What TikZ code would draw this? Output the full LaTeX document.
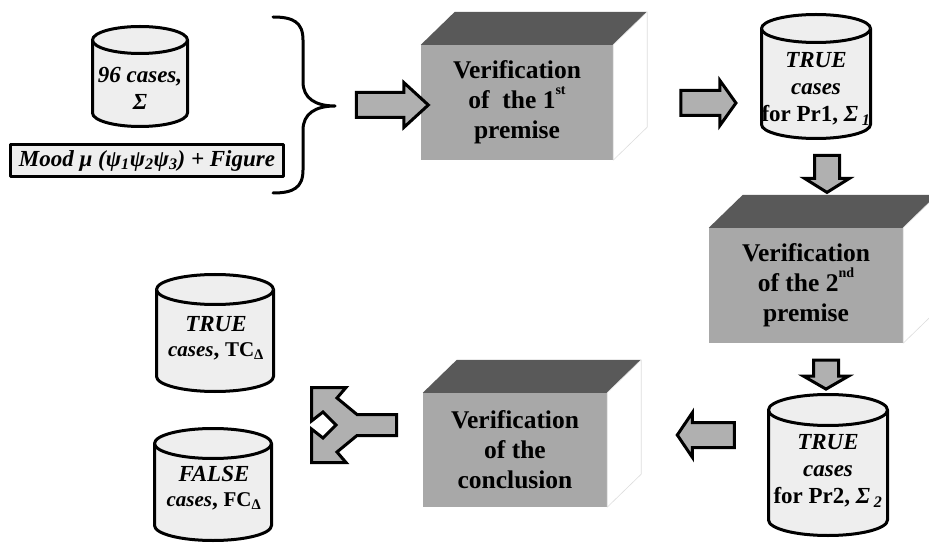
\documentclass[tikz,border=0pt]{standalone}
\usepackage{fontspec}
\setmainfont{Liberation Serif}
\usetikzlibrary{shapes.arrows}

\definecolor{drumfill}{HTML}{EEEEEE}
\definecolor{facegray}{HTML}{A8A8A8}
\definecolor{topgray}{HTML}{595959}
\definecolor{arrowgray}{HTML}{B0B0B0}
\definecolor{edgegray}{HTML}{DDDDDD}

% drum outline: centre x, top y, bottom y, x radius, y radius
\newcommand\drumshape[5]{%
  \filldraw[drumline] ({#1-#4},{#2+#5}) -- ({#1-#4},{#3-#5})
    arc[start angle=180,end angle=360,x radius=#4pt,y radius=#5pt]
    -- ({#1+#4},{#2+#5})
    arc[start angle=0,end angle=180,x radius=#4pt,y radius=#5pt] -- cycle;
  \draw[drumline] ({#1-#4},{#2+#5})
    arc[start angle=180,end angle=360,x radius=#4pt,y radius=#5pt];
}

% top and side faces of a prism whose front face is the given node
\newcommand\prismfaces[1]{%
  \fill[topgray] (#1.north west) -- ++(34,-33) -- ([shift={(34pt,33pt)}]#1.north east) -- (#1.north east) -- cycle;
  \filldraw[fill=white,draw=edgegray,line width=0.6pt] (#1.north east) -- ++(34,-33) -- ([shift={(34pt,33pt)}]#1.south east) -- (#1.south east) -- cycle;
}

\newcommand\ordsup[1]{\raisebox{0.55em}{\fontsize{14}{14}\selectfont #1}}
\newcommand\narrowline{\fontsize{21}{25}\selectfont}

\tikzset{
  drumline/.style={draw=black,fill=drumfill,line width=3pt},
  drumtext/.style={align=center,font=\fontsize{23}{27}\selectfont\bfseries,inner sep=0pt},
  smalldrumtext/.style={align=center,font=\fontsize{23}{25}\selectfont\bfseries,inner sep=0pt},
  frontface/.style={fill=facegray,inner sep=0pt,align=center,
    font=\fontsize{25.5}{30}\selectfont\bfseries},
  moodbox/.style={draw=black,fill=drumfill,line width=3pt,inner sep=0pt,
    minimum width=273pt,minimum height=32pt,
    font=\fontsize{23}{26}\selectfont\bfseries\itshape},
  blockarrow/.style={single arrow,draw=black,fill=arrowgray,line width=3pt,
    single arrow head extend=10pt,single arrow head indent=0pt,line join=miter},
  across/.style={blockarrow,inner xsep=0pt,inner ysep=11pt},
  downward/.style={blockarrow,inner ysep=0pt,inner xsep=11pt,shape border rotate=270},
  bracket/.style={draw=black,line width=3pt,line cap=round},
}

\begin{document}
\begin{tikzpicture}[x=1pt,y=-1pt,line join=round]
\useasboundingbox (0,0) rectangle (929,545);

% source drum and the mood line
\drumshape{140}{26.5}{126.5}{47.5}{13.5}
\node[drumtext] (src) at (140,88) {\itshape 96 cases,\\ \itshape Σ};
\node[moodbox] (mood) at (147,160.5)
  {Mood μ (ψ\textsubscript{1}ψ\textsubscript{2}ψ\textsubscript{3}) + Figure};

% brace gathering both inputs
\draw[bracket] (273,17) .. controls (293,17) and (303,22) .. (303,40) -- (303,82)
  .. controls (303,98) and (315,106) .. (335,106)
  .. controls (315,106) and (303,114) .. (303,130) -- (303,170)
  .. controls (303,188) and (293,193) .. (273,193);

% first premise
\node[frontface,minimum width=192pt,minimum height=115pt] (prem1) at (517,102.5)
  {Verification\\ of\ \ the 1\ordsup{st}\\ premise};
\prismfaces{prem1}

% second premise
\node[frontface,minimum width=194pt,minimum height=115pt] (prem2) at (806,285.5)
  {Verification\\ of the 2\ordsup{nd}\\ premise};
\prismfaces{prem2}

% conclusion
\node[frontface,minimum width=184pt,minimum height=114pt] (concl) at (515,450)
  {Verification\\ of the\\ conclusion};
\prismfaces{concl}

% intermediate drums
\drumshape{816}{14.5}{138.5}{54.5}{14}
\node[drumtext] (pr1) at (816,89)
  {\itshape TRUE\\ \itshape cases\\ for Pr1, {\itshape Σ}\,\textsubscript{\itshape 1}};
\drumshape{828}{394.5}{535.5}{59.5}{15.5}
\node[drumtext] (pr2) at (828,471)
  {\itshape TRUE\\ \itshape cases\\ for Pr2, {\itshape Σ}\,\textsubscript{\itshape 2}};

% result drums
\drumshape{215}{274.5}{391.5}{58.5}{15}
\node[smalldrumtext] (tc) at (216,338)
  {\itshape TRUE\\ {\narrowline\itshape cases}, {\narrowline TC\textsubscript{Δ}}};
\drumshape{213}{428.5}{540.5}{58.5}{15}
\node[smalldrumtext] (fc) at (214,488)
  {\itshape FALSE\\ {\narrowline\itshape cases}, {\narrowline FC\textsubscript{Δ}}};

% block arrows between stages
\node[across,minimum height=72pt,single arrow tip angle=85] (a1) at (385.5,105) {};
\node[across,minimum height=55pt,single arrow tip angle=109] (a2) at (704,103) {};
\node[downward,minimum height=37pt,single arrow tip angle=116] (a3) at (827,170) {};
\node[downward,minimum height=29pt,single arrow tip angle=120] (a4) at (826,371) {};
\node[across,minimum height=57pt,single arrow tip angle=112,shape border rotate=180] (a5) at (710,435) {};

% forked arrow towards the two result drums
\filldraw[fill=arrowgray,draw=black,line width=3pt,line join=miter]
  (311.5,387.5) -- (346,387.5) -- (337,398) -- (357,414.5) -- (396.5,414.5)
  -- (396.5,435.5) -- (357,435.5) -- (337,452) -- (346,462.5) -- (311.5,462.5)
  -- (311.5,429) -- (323,438) -- (336,425) -- (323,412) -- (311.5,421) -- cycle;
\end{tikzpicture}
\end{document}
